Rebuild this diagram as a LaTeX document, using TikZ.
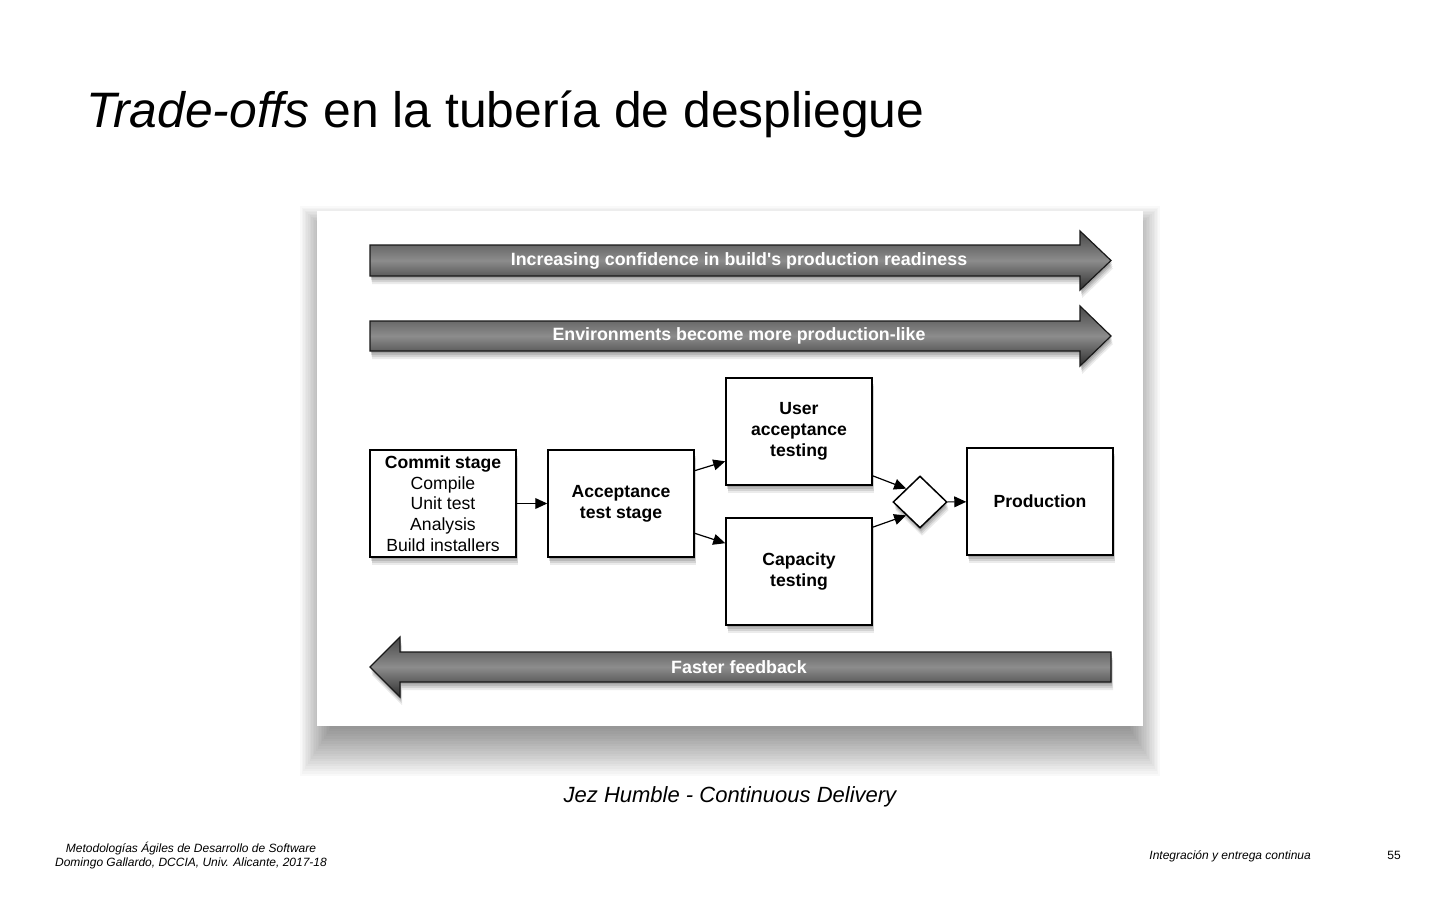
\documentclass[tikz,border=0pt]{standalone}
\usepackage{fontspec}
\setmainfont{Liberation Sans}
\usetikzlibrary{arrows.meta,shapes.geometric,calc}

\tikzset{
  softshadow/.style={
    preaction={fill=black, opacity=0.12, transform canvas={xshift=0.4pt,yshift=-1pt}},
    preaction={fill=black, opacity=0.12, transform canvas={xshift=0.6pt,yshift=-2pt}},
    preaction={fill=black, opacity=0.10, transform canvas={xshift=0.8pt,yshift=-3pt}},
    preaction={fill=black, opacity=0.08, transform canvas={xshift=1pt,yshift=-4pt}}},
  stage/.style={softshadow, draw=black, line width=0.75pt, fill=white, minimum width=73pt, minimum height=53.5pt,
    align=center, inner sep=1pt, font=\fontsize{8.8}{10.35}\selectfont},
  boldstage/.style={stage, font=\bfseries\fontsize{8.8}{10.35}\selectfont},
  flow/.style={line width=0.6pt, -{Triangle[length=6pt,width=5.4pt]}},
  bigarrow/.style={softshadow, draw=black!90, line width=0.6pt, top color=black!72, bottom color=black!82, middle color=black!45},
  arrowtext/.style={text=white, font=\bfseries\fontsize{8.9}{10}\selectfont, inner sep=0pt}
}

\begin{document}
\begin{tikzpicture}[x=0.5pt,y=-0.5pt]
  %%%%% PAGE %%%%%
  \fill[white] (0,0) rectangle (1440,900);
  \useasboundingbox (0,0) rectangle (1440,900);

  \node[anchor=base west, inner sep=0pt, font=\fontsize{24.9}{29}\selectfont] (title) at (86,127)
    {\textit{Trade-offs} en la tubería de despliegue};

  %%%%% PANEL %%%%%
  \foreach \i in {0,...,19}
    \fill[black, opacity=0.025] (300+1.6*\i, 206+1.5*\i) rectangle (1160-1.6*\i, 776-2.5*\i);
  \fill[white] (317,211) rectangle (1143,726);

  %% long arrows
  \path[bigarrow] (370,245) -- (1080,245) -- (1080,231) -- (1111,260.5) -- (1080,290) -- (1080,276) -- (370,276) -- cycle;
  \node[arrowtext] (confidence) at (739,260.5) {Increasing confidence in build\textquotesingle s production readiness};

  \path[bigarrow] (370,321) -- (1080,321) -- (1080,306) -- (1111,336) -- (1080,366) -- (1080,351) -- (370,351) -- cycle;
  \node[arrowtext] (environments) at (739,336) {Environments become more production-like};

  \path[bigarrow] (1111,652) -- (400,652) -- (400,637) -- (370,667) -- (400,697) -- (400,682) -- (1111,682) -- cycle;
  \node[arrowtext] (feedback) at (739,667) {Faster feedback};

  %% stages
  \node[stage] (commit) at (443,503.5) {\textbf{Commit stage}\\Compile\\Unit test\\Analysis\\Build installers};
  \node[boldstage] (acceptance) at (621,503.5) {Acceptance\\test stage};
  \node[boldstage] (uat) at (799,431.5) {User\\acceptance\\testing};
  \node[boldstage] (capacity) at (799,571.5) {Capacity\\testing};
  \node[softshadow, draw=black, line width=0.75pt, fill=white, diamond, inner sep=0pt,
    minimum width=27pt, minimum height=26pt] (gate) at (920,502) {};
  \node[boldstage] (production) at (1040,501.5) {Production};

  %% connectors
  \draw[flow] (commit) -- (acceptance);
  \draw[flow] (acceptance.24) -- (uat.202);
  \draw[flow] (acceptance.-22) -- (capacity.159);
  \draw[flow] (uat.-31) -- (gate.north west);
  \draw[flow] (capacity.31) -- (gate.south west);
  \draw[flow] (gate) -- (production);

  %%%%% CAPTION AND FOOTER %%%%%
  \node[font=\itshape\fontsize{11}{13}\selectfont, anchor=base] (source) at (730,802) {Jez Humble - Continuous Delivery};
  \node[font=\itshape\fontsize{6}{7}\selectfont, align=center, anchor=base] (course) at (191,866)
    {Metodologías Ágiles de Desarrollo de Software\\Domingo Gallardo, DCCIA, Univ. Alicante, 2017-18};
  \node[font=\itshape\fontsize{6}{7}\selectfont, anchor=base west, inner sep=0pt] (topic) at (1149,859) {Integración y entrega continua};
  \node[font=\fontsize{6}{7}\selectfont, anchor=base west, inner sep=0pt] (page) at (1387,859) {55};
\end{tikzpicture}
\end{document}
